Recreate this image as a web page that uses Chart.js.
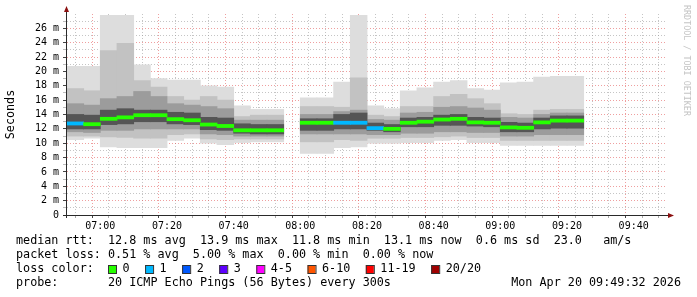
<!DOCTYPE html>
<html><head><meta charset="utf-8">
<script src="https://cdn.jsdelivr.net/npm/chart.js@4"></script>
<style>html,body{margin:0;padding:0;background:#fff;overflow:hidden}#wrap{position:relative;width:697px;height:297px}</style>
</head><body><div id="wrap"><canvas id="c" width="697" height="297"></canvas></div>
<script>
// 5-minute bins (start times); 07:55 has no data
const binTimes = ['06:50','06:55','07:00','07:05','07:10','07:15','07:20','07:25','07:30','07:35','07:40','07:45','07:50','07:55','08:00','08:05','08:10','08:15','08:20','08:25','08:30','08:35','08:40','08:45','08:50','08:55','09:00','09:05','09:10','09:15','09:20'];
// RTT smoke levels in ms (outer max .. inner .. median .. inner .. outer min)
const maxRtt = [20.7,20.7,27.8,27.8,20.9,19.0,18.8,18.8,18.0,17.8,15.2,14.7,14.7,null,16.3,16.3,18.5,27.8,15.2,14.8,17.3,17.7,18.5,18.7,17.6,17.4,18.4,18.5,19.2,19.3,19.3];
const hi2Rtt = [17.6,17.3,22.9,23.9,18.7,17.8,16.5,16.0,16.5,16.0,13.7,13.9,13.9,null,15.1,15.1,15.0,19.1,13.9,13.7,15.1,15.1,16.5,16.8,16.2,15.5,14.1,14.0,14.6,14.7,14.7];
const hi3Rtt = [15.5,15.3,16.2,16.5,17.2,16.5,15.5,15.3,15.1,14.8,13.2,13.2,13.2,null,14.0,14.0,14.4,14.6,13.3,13.2,14.2,14.3,15.0,15.1,14.9,14.6,13.6,13.5,14.0,14.2,14.2];
const hi4Rtt = [14.0,13.9,14.6,14.8,14.6,14.6,14.3,14.2,13.6,13.5,12.7,12.6,12.6,null,13.4,13.4,14.0,14.2,12.8,12.6,13.5,13.6,13.9,14.0,13.6,13.5,12.9,12.8,13.5,13.8,13.8];
const medianRtt = [12.75,12.65,13.4,13.6,13.9,13.9,13.35,13.2,12.6,12.4,11.8,11.8,11.8,null,12.85,12.85,12.85,12.85,12.1,12.0,12.85,13.0,13.3,13.4,12.9,12.85,12.2,12.15,12.9,13.15,13.15];
const lo4Rtt = [12.0,12.0,12.6,12.7,13.0,13.0,12.7,12.6,11.9,11.8,11.4,11.3,11.3,null,11.8,11.8,12.0,12.0,11.8,11.6,12.3,12.3,12.5,12.5,12.4,12.3,11.6,11.6,12.0,12.1,12.1];
const lo3Rtt = [11.6,11.5,11.8,11.8,12.0,12.0,12.0,12.0,11.3,11.2,11.0,11.0,11.0,null,11.3,11.3,11.3,11.3,11.2,11.2,11.4,11.4,11.6,11.6,11.5,11.5,11.0,11.0,11.2,11.2,11.2];
const lo2Rtt = [11.0,11.0,10.9,10.8,10.7,10.7,11.2,11.3,10.6,10.5,10.6,10.6,10.6,null,10.2,10.2,10.5,10.4,10.7,10.7,10.8,10.8,10.9,11.0,10.8,10.8,10.4,10.4,10.4,10.4,10.4];
const minRtt = [10.5,10.7,9.5,9.4,9.4,9.4,10.4,10.7,10.0,9.8,10.1,10.2,10.2,null,8.6,8.6,9.4,9.5,10.0,10.0,10.1,10.1,10.4,10.5,10.1,10.1,9.7,9.7,9.7,9.7,9.7];
const lostPings = [1,0,0,0,0,0,0,0,0,0,0,0,0,null,0,0,1,1,1,0,0,0,0,0,0,0,0,0,0,0,0];

const lossLabels = ['0','1','2','3','4-5','6-10','11-19','20/20'];
const lossColors = ['#26ff00','#00b8ff','#0059ff','#5e00ff','#ff00ff','#ff5500','#ff0000','#a00000'];
const lossIndex = n => n===0?0:n===1?1:n===2?2:n===3?3:n<=5?4:n<=10?5:n<20?6:7;

const statLines = [
  'median rtt:  12.8 ms avg  13.9 ms max  11.8 ms min  13.1 ms now  0.6 ms sd  23.0   am/s',
  'packet loss: 0.51 % avg  5.00 % max  0.00 % min  0.00 % now'
];
const probeText = 'probe:       20 ICMP Echo Pings (56 Bytes) every 300s';
const dateText = 'Mon Apr 20 09:49:32 2026';

const T0 = 6*60+50; // 06:50
const toMin = s => { const [h,m]=s.split(':').map(Number); return h*60+m-T0; };
const fmt = v => { const t=T0+v; return String(Math.floor(t/60)).padStart(2,'0')+':'+String(t%60).padStart(2,'0'); };
const idx = binTimes.map((t,i)=>i).filter(i=>medianRtt[i]!==null);
const band = (lo,hi) => idx.map(i=>({x: toMin(binTimes[i])+2.5, y:[lo[i],hi[i]]}));

const MONO = '"DejaVu Sans Mono", monospace';
const barBase = {grouped:false, barPercentage:1, categoryPercentage:1, borderWidth:0, inflateAmount:0.4};
const RED = 'rgba(225,80,80,0.55)', GRAY = 'rgba(150,150,150,0.55)';

const frame = {
  id:'frame',
  afterDraw(chart){
    const ctx = chart.ctx, a = chart.chartArea;
    ctx.save();
    // axes
    ctx.strokeStyle = '#2a2a2a'; ctx.lineWidth = 1;
    ctx.beginPath();
    ctx.moveTo(a.left-0.5, a.bottom+3); ctx.lineTo(a.left-0.5, a.top-4);
    ctx.moveTo(a.left-4, a.bottom+0.5); ctx.lineTo(a.right+3, a.bottom+0.5);
    ctx.stroke();
    ctx.fillStyle = '#8b1010';
    ctx.beginPath();
    ctx.moveTo(a.left-0.5, a.top-8); ctx.lineTo(a.left-3, a.top-2); ctx.lineTo(a.left+2, a.top-2); ctx.closePath(); ctx.fill();
    ctx.beginPath();
    ctx.moveTo(a.right+7, a.bottom+0.5); ctx.lineTo(a.right+1, a.bottom-2); ctx.lineTo(a.right+1, a.bottom+3); ctx.closePath(); ctx.fill();
    // watermark
    ctx.save();
    ctx.translate(686, 5); ctx.rotate(Math.PI/2);
    ctx.font = '8.4px '+MONO; ctx.fillStyle = '#c4c4c4'; ctx.textBaseline='middle'; ctx.textAlign='left';
    ctx.fillText('RRDTOOL / TOBI OETIKER', 0, 0);
    ctx.restore();
    // legend
    ctx.font = '11.75px '+MONO; ctx.fillStyle = '#000'; ctx.textBaseline = 'middle'; ctx.textAlign='left';
    ctx.fillText(statLines[0], 16, 241);
    ctx.fillText(statLines[1], 16, 255);
    ctx.fillText('loss color:', 16, 269);
    let bx = 108;
    const cw = ctx.measureText('0').width;
    lossLabels.forEach((l,i)=>{
      ctx.fillStyle = lossColors[i];
      ctx.fillRect(bx, 265, 8, 9);
      ctx.strokeStyle = '#333'; ctx.lineWidth = 1;
      ctx.strokeRect(bx+0.5, 265.5, 8, 8);
      ctx.fillStyle = '#000';
      ctx.fillText(l, bx+14.5, 269);
      bx = bx + 14.5 + l.length*cw + 15.5;
    });
    ctx.fillText(probeText, 16, 283);
    ctx.textAlign = 'right';
    ctx.fillText(dateText, 681, 283);
    ctx.restore();
  }
};

new Chart(document.getElementById('c'), {
  type:'bar',
  data:{datasets:[
    Object.assign({label:'median', order:0, data: band(medianRtt.map(v=>v===null?null:v-0.21), medianRtt.map(v=>v===null?null:v+0.21)),
      backgroundColor: idx.map(i=>lossColors[lossIndex(lostPings[i])])}, barBase),
    Object.assign({label:'b4', order:1, data: band(lo4Rtt, hi4Rtt), backgroundColor:'#555555'}, barBase),
    Object.assign({label:'b3', order:2, data: band(lo3Rtt, hi3Rtt), backgroundColor:'#9c9c9c'}, barBase),
    Object.assign({label:'b2', order:3, data: band(lo2Rtt, hi2Rtt), backgroundColor:'#c2c2c2'}, barBase),
    Object.assign({label:'b1', order:4, data: band(minRtt, maxRtt), backgroundColor:'#dddddd'}, barBase)
  ]},
  options:{
    responsive:false, animation:false, devicePixelRatio:1,
    layout:{padding:{top:14, right:30, left:0, bottom:0}},
    plugins:{legend:{display:false}, tooltip:{enabled:false}},
    scales:{
      x:{type:'linear', min:0, max:180, offset:false, position:'bottom', z:1,
        afterBuildTicks: s => { const t=[]; for(let v=5; v<180; v+=5) t.push({value:v}); s.ticks=t; },
        afterFit: s => { s.height = 82; },
        ticks:{autoSkip:false, maxRotation:0, minRotation:0, padding:2, color:'#000', font:{family:MONO, size:10},
          callback: v => ((v-10)%20===0 ? fmt(v) : '')},
        grid:{drawOnChartArea:true, drawTicks:true, tickLength:3, lineWidth:1,
          color: c => ((c.tick && (c.tick.value-10)%20===0) ? RED : GRAY),
          tickColor: c => ((c.tick && (c.tick.value-10)%20===0) ? '#444' : '#aaa')},
        border:{display:false, dash:[1,2]}
      },
      y:{type:'linear', min:0, max:28, position:'left', z:1,
        afterBuildTicks: s => { const t=[]; for(let v=0; v<28; v++) t.push({value:v}); s.ticks=t; },
        afterFit: s => { s.width = 67; },
        title:{display:true, text:'Seconds', color:'#000', font:{family:MONO, size:11.75}, padding:{top:4,bottom:0}},
        ticks:{autoSkip:false, padding:4, color:'#000', font:{family:MONO, size:10},
          callback: v => (v%2===0 ? (v===0 ? '0' : v+' m') : '')},
        grid:{drawTicks:true, tickLength:4, lineWidth:1,
          color: c => ((c.tick && c.tick.value%2===0) ? RED : GRAY),
          tickColor: c => ((c.tick && c.tick.value%2===0) ? '#444' : '#bbb')},
        border:{display:false, dash:[1,2]}
      }
    }
  },
  plugins:[frame]
});
</script></body></html>
